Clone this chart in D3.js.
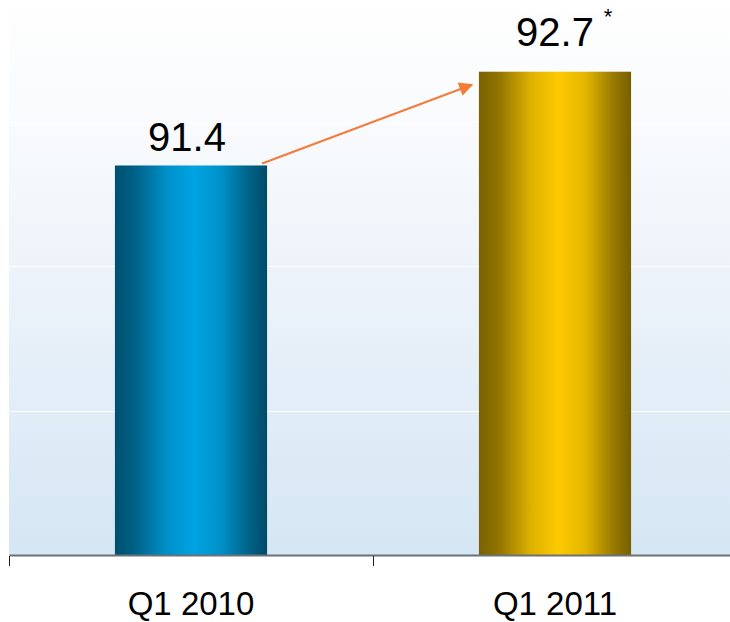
<!DOCTYPE html>
<html>
<head>
<meta charset="utf-8">
<script src="https://cdn.jsdelivr.net/npm/d3@7"></script>
<style>
  html, body { margin: 0; padding: 0; background: #ffffff; }
  svg { display: block; }
  text { font-family: "Liberation Sans", Arial, sans-serif; fill: #000; }
</style>
</head>
<body>
<script>
// Quarterly values
const categories = ["Q1 2010", "Q1 2011"];
const values = [91.4, 92.7];
const valueLabels = ["91.4", "92.7"];
const valueNotes = ["", "*"];
const gridValues = [88, 90, 92];
const yDomain = [86, 93.5];

const W = 730, H = 622;
const plot = { left: 9, right: 737, top: 14, bottom: 555 };

const svg = d3.select("body").append("svg")
  .attr("width", W).attr("height", H);

const defs = svg.append("defs");

// Panel background: white at the top fading to pale blue
const bg = defs.append("linearGradient").attr("id", "bgGrad")
  .attr("x1", 0).attr("y1", 0).attr("x2", 0).attr("y2", 1);
bg.append("stop").attr("offset", "0%").attr("stop-color", "#fefefe");
bg.append("stop").attr("offset", "22%").attr("stop-color", "#f8fafd");
bg.append("stop").attr("offset", "48%").attr("stop-color", "#edf3fa");
bg.append("stop").attr("offset", "100%").attr("stop-color", "#d5e6f4");

// Cylinder-like horizontal shading for the bars
function barGradient(id, stops) {
  const g = defs.append("linearGradient").attr("id", id)
    .attr("x1", 0).attr("y1", 0).attr("x2", 1).attr("y2", 0);
  stops.forEach(([o, c]) => g.append("stop").attr("offset", o).attr("stop-color", c));
}
barGradient("blueGrad", [
  ["0%", "#00506f"], ["12%", "#005f84"], ["35%", "#0092cb"],
  ["52%", "#00a3e2"], ["70%", "#0090c8"], ["88%", "#006388"], ["100%", "#004b68"]
]);
barGradient("goldGrad", [
  ["0%", "#7a6200"], ["12%", "#8f7200"], ["35%", "#e0b300"],
  ["52%", "#fdc900"], ["70%", "#e4b600"], ["88%", "#9a7a00"], ["100%", "#765f00"]
]);
const fills = ["url(#blueGrad)", "url(#goldGrad)"];

// Arrow marker
defs.append("marker").attr("id", "arrowHead")
  .attr("viewBox", "0 0 10 10").attr("refX", 9).attr("refY", 5)
  .attr("markerWidth", 8).attr("markerHeight", 7)
  .attr("markerUnits", "strokeWidth").attr("orient", "auto")
  .append("path").attr("d", "M0,0 L10,5 L0,10 Z").attr("fill", "#f47b38");

const x = d3.scaleBand().domain(categories)
  .range([plot.left, plot.right]).paddingInner(0).paddingOuter(0);
const barW = x.bandwidth() * 0.418;
const y = d3.scaleLinear().domain(yDomain).range([plot.bottom, plot.top]);

// Background panel
svg.append("rect")
  .attr("x", plot.left).attr("y", plot.top)
  .attr("width", plot.right - plot.left).attr("height", plot.bottom - plot.top)
  .attr("fill", "url(#bgGrad)");

// Gridlines
svg.append("g").selectAll("line").data(gridValues).join("line")
  .attr("x1", plot.left).attr("x2", plot.right)
  .attr("y1", d => Math.round(y(d)) + 0.5).attr("y2", d => Math.round(y(d)) + 0.5)
  .attr("stroke", "#ffffff").attr("stroke-width", 1.2);

// Bars
svg.append("g").selectAll("rect").data(values).join("rect")
  .attr("x", (d, i) => x(categories[i]) + (x.bandwidth() - barW) / 2)
  .attr("width", barW)
  .attr("y", d => y(d))
  .attr("height", d => plot.bottom - y(d))
  .attr("fill", (d, i) => fills[i]);

// X axis
const xAxis = d3.axisBottom(x).tickSize(0).tickPadding(0).tickFormat("");
const ax = svg.append("g").attr("transform", `translate(0,${plot.bottom})`).call(xAxis);
ax.select(".domain").attr("stroke", "#6a7177").attr("stroke-width", 2);
// category separators
const bounds = categories.map(c => x(c)).concat([x.range()[1]]);
ax.selectAll("line.sep").data(bounds).join("line").attr("class", "sep")
  .attr("x1", d => d + 0.5).attr("x2", d => d + 0.5)
  .attr("y1", 1).attr("y2", 11)
  .attr("stroke", "#222").attr("stroke-width", 1);

// Category labels
svg.append("g").selectAll("text").data(categories).join("text")
  .attr("x", d => x(d) + x.bandwidth() / 2)
  .attr("y", 615)
  .attr("text-anchor", "middle")
  .attr("font-size", 33)
  .text(d => d);

// Value labels
const labelGap = [14, 26];
const lbl = svg.append("g").selectAll("g").data(values).join("g");
lbl.append("text")
  .attr("x", (d, i) => x(categories[i]) + x.bandwidth() / 2 - (i === 0 ? 4 : 0))
  .attr("y", (d, i) => y(d) - labelGap[i])
  .attr("text-anchor", "middle")
  .attr("font-size", 40)
  .text((d, i) => valueLabels[i]);
lbl.filter((d, i) => valueNotes[i] !== "").append("text")
  .attr("x", (d, i) => x(categories[1]) + x.bandwidth() / 2 + 53)
  .attr("y", d => y(d) - 48)
  .attr("text-anchor", "middle")
  .attr("font-size", 22)
  .text((d, i) => valueNotes[1]);

// Growth arrow from the first bar's top to the second bar's top
const b0 = x(categories[0]) + (x.bandwidth() + barW) / 2;
const b1 = x(categories[1]) + (x.bandwidth() - barW) / 2;
svg.append("line")
  .attr("x1", b0 - 5).attr("y1", y(values[0]) - 2)
  .attr("x2", b1 - 7).attr("y2", y(values[1]) + 13)
  .attr("stroke", "#f47b38").attr("stroke-width", 2)
  .attr("marker-end", "url(#arrowHead)");
</script>
</body>
</html>
